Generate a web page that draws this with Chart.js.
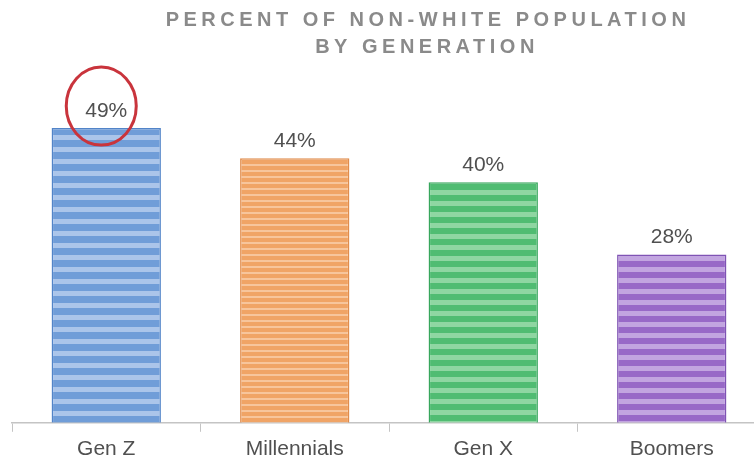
<!DOCTYPE html>
<html>
<head>
<meta charset="utf-8">
<script src="https://cdn.jsdelivr.net/npm/chart.js@4/dist/chart.umd.min.js"></script>
<style>
  html, body { margin: 0; padding: 0; background: #fff; overflow: hidden; }
  #wrap { width: 754px; height: 462px; overflow: hidden; }
</style>
</head>
<body>
<div id="wrap"><canvas id="myChart" width="780" height="467"></canvas></div>
<script>
const generations = ["Gen Z", "Millennials", "Gen X", "Boomers"];
const nonWhitePct = [49, 44, 40, 28];
const titleLines = ["PERCENT OF NON-WHITE POPULATION", "BY GENERATION"];
const highlighted = "Gen Z";

// base, stripe, edge, stripe period, stripe height
const barStyles = [
  ["#709dd8", "#abc5ea", "#5284c8", 12, 5],
  ["#f0a466", "#f7c59c", "#e08c4c", 6, 2],
  ["#50bc72", "#8fd6a2", "#37a65c", 11, 5],
  ["#9869c7", "#c2a5e0", "#7f53b4", 11, 5],
];

function stripes(base, light, period, h) {
  const c = document.createElement("canvas");
  c.width = 8;
  c.height = period;
  const g = c.getContext("2d");
  g.fillStyle = base;
  g.fillRect(0, 0, 8, period);
  g.fillStyle = light;
  g.fillRect(0, Math.floor((period - h) / 2), 8, h);
  return g.createPattern(c, "repeat");
}

const chart_ctx = document.getElementById("myChart");

const titlePlugin = {
  id: "spacedTitle",
  afterDraw(chart) {
    const ctx = chart.ctx;
    ctx.save();
    ctx.font = "bold 20px 'Liberation Sans', Arial, sans-serif";
    ctx.letterSpacing = "4.5px";
    ctx.fillStyle = "#8a8a8a";
    ctx.textAlign = "center";
    ctx.textBaseline = "middle";
    ctx.fillText(titleLines[0], 428, 20);
    ctx.fillText(titleLines[1], 427, 47);
    ctx.restore();
  },
};

const labelPlugin = {
  id: "barLabels",
  afterDatasetsDraw(chart) {
    const ctx = chart.ctx;
    const meta = chart.getDatasetMeta(0);
    ctx.save();
    ctx.font = "21px 'Liberation Sans', Arial, sans-serif";
    ctx.fillStyle = "#505050";
    ctx.textAlign = "center";
    ctx.textBaseline = "alphabetic";
    meta.data.forEach((bar, i) => {
      ctx.fillText(nonWhitePct[i] + "%", bar.x, bar.y - 11);
    });
    // red ring round the highlighted value
    const bar = meta.data[generations.indexOf(highlighted)];
    ctx.strokeStyle = "#c9343c";
    ctx.lineWidth = 3;
    ctx.beginPath();
    ctx.ellipse(bar.x - 5, bar.y - 22, 35, 39, 0, 0, Math.PI * 2);
    ctx.stroke();
    ctx.restore();
  },
};

const data = {
  labels: generations,
  datasets: [
    {
      data: nonWhitePct,
      backgroundColor: barStyles.map((s) => stripes(s[0], s[1], s[3], s[4])),
      borderColor: barStyles.map((s) => s[2]),
      borderWidth: 1.5,
      barPercentage: 0.58,
      categoryPercentage: 1,
    },
  ],
};

const config = {
  type: "bar",
  data,
  options: {
    responsive: false,
    animation: false,
    layout: { padding: { top: 92, left: 12, right: 14, bottom: 0 } },
    plugins: {
      legend: { display: false },
      tooltip: { enabled: false },
      title: { display: false },
    },
    scales: {
      x: {
        grid: {
          display: true,
          drawOnChartArea: false,
          drawTicks: true,
          tickLength: 9,
          color: "#c4c4c4",
        },
        border: { display: true, color: "#c4c4c4", width: 1.5 },
        ticks: {
          color: "#505050",
          padding: 5,
          font: { family: "'Liberation Sans', Arial, sans-serif", size: 21 },
        },
      },
      y: {
        display: false,
        min: 0,
        max: 55,
      },
    },
  },
  plugins: [titlePlugin, labelPlugin],
};

var myChart = new Chart(chart_ctx, config);
</script>
</body>
</html>
